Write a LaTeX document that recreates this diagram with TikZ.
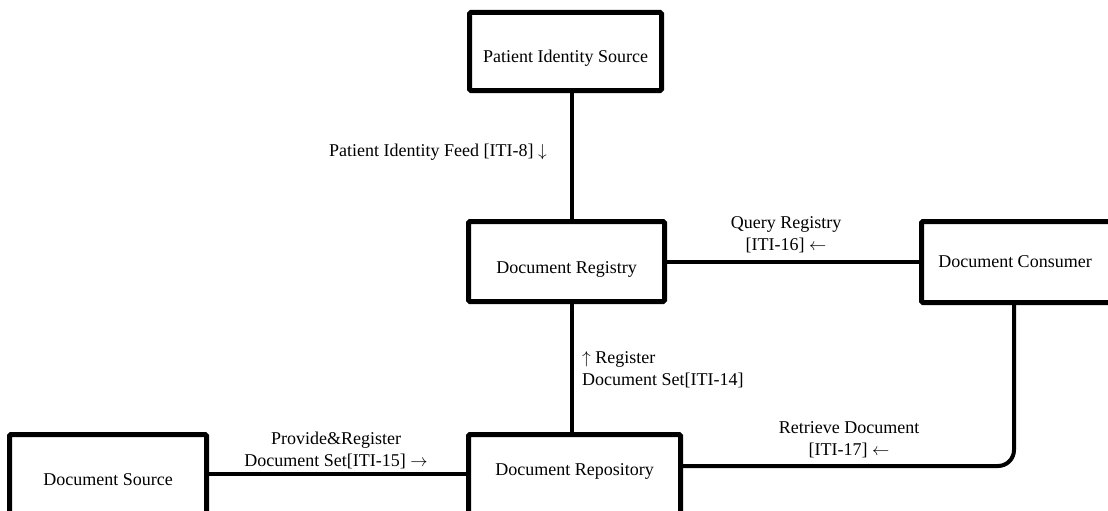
\documentclass[tikz,border=0pt]{standalone}
\usepackage{fontspec}
\setmainfont{Liberation Serif}
\usetikzlibrary{calc}

\begin{document}
\begin{tikzpicture}[x=1pt,y=-1pt,
	box/.style={draw, line width=5pt, rounded corners=1.5pt, inner sep=0pt, text depth=0pt},
	link/.style={line width=4pt},
	lbl/.style={align=center, inner sep=0pt}]
	\useasboundingbox (0,0) rectangle (1108,511);
	\fontsize{18}{22}\selectfont

	\node[box, minimum width=192, minimum height=78, text height=23pt] (pis) at (565.5,51.5) {Patient Identity Source};
	\node[box, minimum width=196, minimum height=80, text height=23pt] (reg) at (566.5,261.5) {Document Registry};
	\node[box, minimum width=200, minimum height=81, text height=10pt] (cons) at (1021.5,262) {\hspace*{-13pt}Document Consumer};
	\node[box, minimum width=197, minimum height=95, text height=6pt] (src) at (108,482) {Document Source};
	\node[box, minimum width=212, minimum height=95, text height=0pt, text depth=14pt] (repo) at (574.5,482) {Document Repository};

	\coordinate (spine) at (572,0);
	\coordinate (drop) at (1014,0);
	\draw[link] (pis.south -| spine) -- (reg.north -| spine);
	\draw[link] (reg.south -| spine) -- (repo.north -| spine);
	\draw[link] (reg.east) -- (reg.east -| cons.west);
	\draw[link] ([yshift=8pt]src.east) -- ([yshift=8pt]src.east -| repo.west);
	\draw[link, rounded corners=16pt] ([yshift=16pt]repo.east) -| (cons.south -| drop);

	\node[lbl, anchor=base east] (feed) at (547,156) {Patient Identity Feed [ITI-8] $\downarrow$};
	\node[lbl] (query) at (786,235) {Query Registry\\{[ITI-16]} $\leftarrow$};
	\node[lbl, align=left, anchor=west] (regset) at (582,370) {$\uparrow$ Register\\Document Set[ITI-14]};
	\node[lbl] (provide) at (336,450) {Provide\&Register\\Document Set[ITI-15] $\rightarrow$};
	\node[lbl] (retrieve) at (849,440) {Retrieve Document\\{[ITI-17]} $\leftarrow$};
\end{tikzpicture}
\end{document}
